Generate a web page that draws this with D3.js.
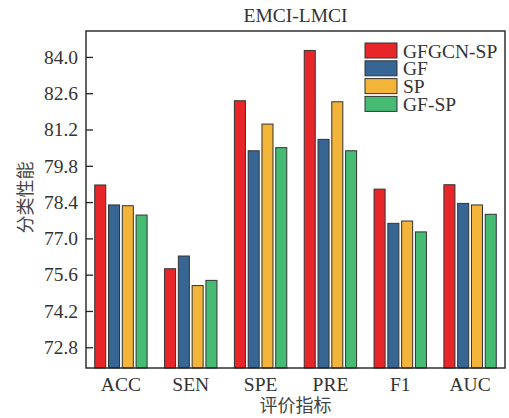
<!DOCTYPE html>
<html>
<head>
<meta charset="utf-8">
<script src="https://cdn.jsdelivr.net/npm/d3@7"></script>
<style>
  body { margin: 0; background: #fff; }
  text { font-family: "Liberation Serif", "Times New Roman", serif; fill: #333; }
  .cjk { font-family: "Noto Sans CJK SC", sans-serif; }
</style>
</head>
<body>
<svg id="chart" width="509" height="418"></svg>
<script>
const categories = ["ACC", "SEN", "SPE", "PRE", "F1", "AUC"];
const seriesNames = ["GFGCN-SP", "GF", "SP", "GF-SP"];
const gfgcnSp = [79.06, 75.83, 82.31, 84.25, 78.90, 79.07];
const gf      = [78.29, 76.32, 80.38, 80.82, 77.58, 78.35];
const sp      = [78.26, 75.18, 81.41, 82.27, 77.67, 78.29];
const gfSp    = [77.90, 75.38, 80.50, 80.38, 77.25, 77.93];
const yTicks = [72.8, 74.2, 75.6, 77.0, 78.4, 79.8, 81.2, 82.6, 84.0];
const colors = ["#e8262a", "#376695", "#f3b43a", "#46bb74"];

const series = [gfgcnSp, gf, sp, gfSp];

const svg = d3.select("#chart"),
    margin = { top: 31, right: 4, bottom: 50, left: 86 },
    width = +svg.attr("width"),
    height = +svg.attr("height"),
    chartWidth = width - margin.left - margin.right,
    chartHeight = height - margin.top - margin.bottom;

const chart = svg.append("g")
    .attr("transform", `translate(${margin.left},${margin.top})`);

const x0 = d3.scaleBand()
    .domain(categories)
    .range([0, chartWidth])
    .paddingInner(0.25)
    .paddingOuter(0.125);

const x1 = d3.scaleBand()
    .domain(seriesNames)
    .range([0, x0.bandwidth()])
    .paddingInner(0.2);

const y = d3.scaleLinear()
    .domain([72, 85])
    .range([chartHeight, 0]);

const color = d3.scaleOrdinal().domain(seriesNames).range(colors);

// bars
const groups = chart.append("g")
    .selectAll("g")
    .data(categories)
    .join("g")
    .attr("transform", d => `translate(${x0(d)},0)`);

groups.selectAll("rect")
    .data((c, i) => seriesNames.map((s, j) => ({ key: s, value: series[j][i] })))
    .join("rect")
    .attr("x", d => x1(d.key))
    .attr("y", d => y(d.value))
    .attr("width", x1.bandwidth())
    .attr("height", d => chartHeight - y(d.value))
    .attr("fill", d => color(d.key))
    .attr("stroke", "#333")
    .attr("stroke-width", 1);

// axes
const yAxis = chart.append("g")
    .call(d3.axisLeft(y).tickValues(yTicks).tickFormat(d3.format(".1f"))
        .tickSizeInner(-7).tickSizeOuter(0).tickPadding(8));
yAxis.selectAll("text").style("font-size", "19.5px").attr("fill", "#333");

const xAxis = chart.append("g")
    .attr("transform", `translate(0,${chartHeight})`)
    .call(d3.axisBottom(x0).tickSize(0).tickPadding(9));
xAxis.selectAll("text").style("font-size", "19.5px").attr("fill", "#333").attr("dy", "0.71em");

svg.selectAll(".domain").remove();
chart.selectAll(".tick line").attr("stroke", "#222").attr("stroke-width", 1.3);
chart.selectAll(".tick text").style("font-family", "'Liberation Serif', serif");

// frame
chart.append("rect")
    .attr("width", chartWidth)
    .attr("height", chartHeight)
    .attr("fill", "none")
    .attr("stroke", "#222")
    .attr("stroke-width", 1.4);

// title
svg.append("text")
    .attr("x", margin.left + chartWidth / 2)
    .attr("y", 22)
    .attr("text-anchor", "middle")
    .style("font-size", "19.5px")
    .text("EMCI-LMCI");

// axis labels
svg.append("text")
    .attr("class", "cjk")
    .attr("x", margin.left + chartWidth / 2)
    .attr("y", 412)
    .attr("text-anchor", "middle")
    .style("font-size", "18px")
    .style("fill", "#444")
    .text("评价指标");

svg.append("text")
    .attr("class", "cjk")
    .attr("transform", `translate(32,${margin.top + chartHeight / 2 - 2}) rotate(-90)`)
    .attr("text-anchor", "middle")
    .style("font-size", "18px")
    .style("fill", "#444")
    .text("分类性能");

// legend
const legend = svg.append("g").attr("transform", "translate(365,43)");
seriesNames.forEach((key, i) => {
    const g = legend.append("g").attr("transform", `translate(0,${i * 17.8})`);
    g.append("rect").attr("width", 32).attr("height", 15)
        .attr("fill", color(key)).attr("stroke", "#333").attr("stroke-width", 1);
    g.append("text").attr("x", 38).attr("y", 14.5)
        .style("font-size", "19.5px").text(key);
});
</script>
</body>
</html>
